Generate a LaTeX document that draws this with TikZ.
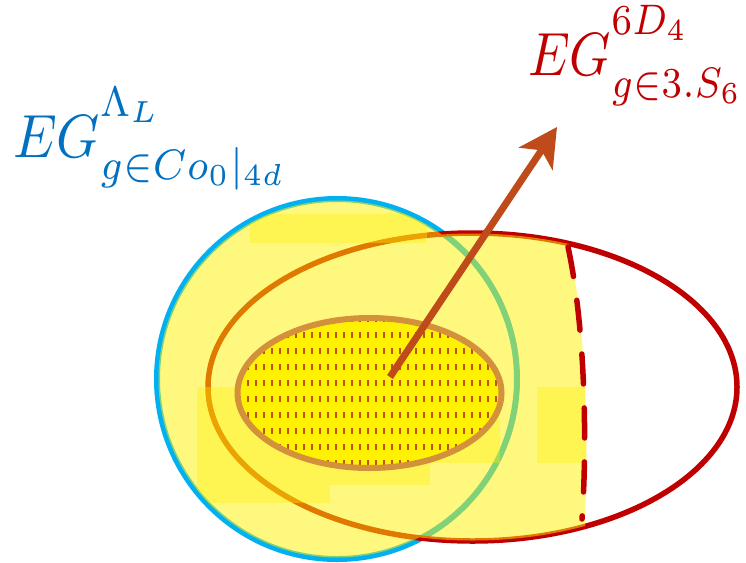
\documentclass[tikz,border=0pt]{standalone}
\usepackage{graphicx}
\usetikzlibrary{arrows.meta}
\definecolor{cblue}{HTML}{00B0F0}
\definecolor{cred}{HTML}{C00000}
\definecolor{lblue}{HTML}{0070C0}
\definecolor{carrow}{HTML}{BF4B1A}
\definecolor{cinner}{HTML}{D4913B}
\definecolor{cdash}{HTML}{C0501F}
\tikzset{
  circlestroke/.style={draw=cblue, line width=6pt},
  ellstroke/.style={draw=cred, line width=5.5pt},
  overlay/.style={fill=yellow, fill opacity=0.5},
  patch/.style={fill=yellow, fill opacity=0.35},
  innerfill/.style={fill=yellow},
  innerline/.style={draw=cinner, line width=6pt},
  hatch/.style={draw=cdash, line width=1.5pt, dash pattern=on 6pt off 10pt},
  cutline/.style={draw=cred, line width=5.5pt, line cap=round, dash pattern=on 30pt off 24pt},
  bigarrow/.style={draw=carrow, line width=7pt, -{Stealth[length=38pt, width=40pt, inset=10pt]}},
  label/.style={inner sep=0pt, anchor=base west}
}
\newcommand{\upsc}[1]{\raisebox{3pt}{$\scriptstyle #1$}}
\newcommand{\dnsc}[1]{\raisebox{-1.2pt}{$\scriptstyle #1$}}
\begin{document}
\begin{tikzpicture}[x=1pt, y=-1pt]
\useasboundingbox[fill=white] (0,0) rectangle (746,562);

% outer shapes
\path[circlestroke] (337,379) circle [radius=180pt];
\path[ellstroke] (472.5,387) ellipse [x radius=264.5pt, y radius=154pt];

% semi-transparent yellow overlay
\begin{scope}
  \clip (100,150) -- (566,150) -- (569,247) .. controls (587,330) and (588,450) .. (585,520) -- (585,600) -- (100,600) -- cycle;
  \fill[overlay] (337,379) circle [radius=178.5pt] (472.5,387) ellipse [x radius=264pt, y radius=153.5pt];
  \begin{scope}
    \clip (337,379) circle [radius=178pt] (472.5,387) ellipse [x radius=262pt, y radius=151.5pt];
    \fill[patch] (250,214) rectangle (427,243);
    \fill[patch] (197,387) rectangle (500,463);
    \fill[patch] (537,387) rectangle (590,463);
    \fill[patch] (197,463) rectangle (330,503);
    \fill[patch] (330,463) rectangle (430,485);
  \end{scope}
\end{scope}

% inner ellipse
\path[innerfill] (369.5,393) ellipse [x radius=132pt, y radius=75pt];
\begin{scope}
  \clip (369.5,393) ellipse [x radius=130pt, y radius=73pt];
  \foreach \xx in {240,248,...,504} {
    \path[hatch] (\xx,316) -- (\xx,472);
  }
\end{scope}
\path[innerline] (369.5,393) ellipse [x radius=132pt, y radius=75pt];

% dashed cut on the red ellipse
\coordinate (cuttop) at (568,247);
\coordinate (cutbot) at (582,519);
\path[cutline] (cuttop) .. controls (586,330) and (587,450) .. (cutbot);

% arrow
\coordinate (arrstart) at (390,377);
\coordinate (arrtip) at (557,127);
\path[bigarrow] (arrstart) -- (arrtip);

% labels
\node[label, text=lblue] (lblblue) at (13,157) {\scalebox{5.5}[6.1]{$EG^{\upsc{\Lambda_L}}_{\dnsc{g\in Co_0|_{4d}}}$}};
\node[label, text=cred] (lblred) at (528,75) {\scalebox{5.25}[6.1]{$EG^{\upsc{6D_4}}_{\dnsc{g\in 3.S_6}}$}};
\end{tikzpicture}
\end{document}
